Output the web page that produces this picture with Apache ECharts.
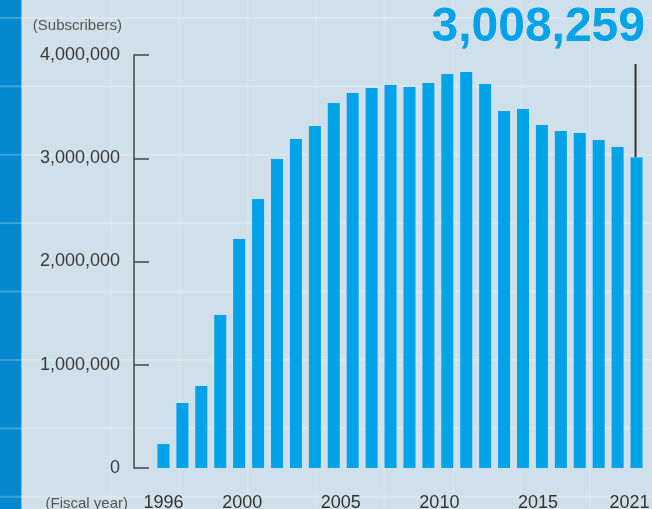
<!DOCTYPE html>
<html>
<head>
<meta charset="utf-8">
<script src="https://cdn.jsdelivr.net/npm/echarts@6/dist/echarts.min.js"></script>
<style>
  html, body { margin: 0; padding: 0; }
  #wrap {
    position: relative;
    width: 652px;
    height: 509px;
    overflow: hidden;
    background-color: #cfe0ea;
    background-image:
      linear-gradient(to right, #0588cf 0, #0588cf 21px, #7cbde3 21px, #7cbde3 22px, transparent 22px);
    background-repeat: no-repeat;
  }
  /* faint graph-paper pattern */
  #hlines, #vlines { position: absolute; top: 0; bottom: 0; }
  #hlines {
    left: 0; right: 0;
    background-image: linear-gradient(to bottom, rgba(255,255,255,0.22) 2px, transparent 2px);
    background-size: 100% 68.4px;
    background-position: 0 17px;
  }
  #vlines {
    left: 110px; right: 0;
    background-image: linear-gradient(to right, rgba(255,255,255,0.14) 2px, transparent 2px);
    background-size: 68.4px 100%;
  }
  #chart { position: absolute; left: 0; top: 0; width: 652px; height: 509px; }
</style>
</head>
<body>
<div id="wrap">
  <div id="vlines"></div>
  <div id="hlines"></div>
  <div id="chart"></div>
</div>
<script>
// Subscribers by fiscal year
const years = ['1996', '1997', '1998', '1999', '2000', '2001', '2002', '2003', '2004',
  '2005', '2006', '2007', '2008', '2009', '2010', '2011', '2012', '2013', '2014',
  '2015', '2016', '2017', '2018', '2019', '2020', '2021'];
const subscribers = [232000, 630000, 794000, 1482000, 2218000, 2605000, 2993000, 3186000,
  3312000, 3535000, 3632000, 3680000, 3709000, 3690000, 3729000, 3816000, 3835000,
  3719000, 3458000, 3477000, 3322000, 3264000, 3245000, 3177000, 3109000, 3008259];
const yTicks = [0, 1000000, 2000000, 3000000, 4000000];
const yearLabels = ['1996', '2000', '2005', '2010', '2015', '2021'];

const FONT = '"Liberation Sans", Arial, Helvetica, sans-serif';
const BAR = '#00a2e8';
const fmt = v => v.toLocaleString('en-US');

// small horizontal nudges for the year labels (px)
const labelNudge = { '1996': 0, '2000': 3, '2005': 7, '2010': 11, '2015': 15, '2021': -7 };
const rich = {};
yearLabels.forEach(y => {
  const s = labelNudge[y] || 0;
  rich['y' + y] = {
    fontSize: 18, color: '#333', fontFamily: FONT,
    padding: s >= 0 ? [0, 0, 0, 2 * s] : [0, -2 * s, 0, 0]
  };
});

const chart = echarts.init(document.getElementById('chart'), null, { renderer: 'canvas' });
const lastIdx = subscribers.length - 1;
const lastVal = subscribers[lastIdx];

chart.setOption({
  animation: false,
  backgroundColor: 'transparent',
  grid: { left: 154, right: 6, top: 55, bottom: 41, containLabel: false, outerBoundsMode: 'none' },
  xAxis: {
    type: 'category',
    data: years,
    axisLine: { show: false },
    axisTick: { show: false },
    axisLabel: {
      interval: (i, v) => yearLabels.indexOf(v) >= 0,
      margin: 26,
      fontSize: 18,
      color: '#333',
      fontFamily: FONT,
      formatter: v => '{y' + v + '|' + v + '}',
      rich: rich
    }
  },
  yAxis: {
    type: 'value',
    min: yTicks[0],
    max: yTicks[yTicks.length - 1],
    interval: yTicks[1] - yTicks[0],
    offset: 20,
    axisLine: { show: true, lineStyle: { color: '#444', width: 1.5 } },
    axisTick: { show: true, inside: true, length: 15, lineStyle: { color: '#444', width: 1.5 } },
    axisLabel: { margin: 14, fontSize: 18, color: '#3a3a3a', fontFamily: FONT, formatter: fmt },
    splitLine: { show: false }
  },
  series: [{
    type: 'bar',
    data: subscribers,
    barWidth: 12,
    itemStyle: { color: BAR },
    silent: true
  }]
});

// callout: latest value with a leader line down to its bar
const barTop = chart.convertToPixel({ seriesIndex: 0 }, [lastIdx, lastVal]);
chart.setOption({
  graphic: [
    {
      type: 'text', x: 122, y: 26,
      style: { text: '(Subscribers)', fontSize: 15, fill: '#555', fontFamily: FONT,
        align: 'right', verticalAlign: 'middle' }
    },
    {
      type: 'text', x: 128, y: 504,
      style: { text: '(Fiscal year)', fontSize: 15, fill: '#555', fontFamily: FONT,
        align: 'right', verticalAlign: 'middle' }
    },
    {
      type: 'text', x: 645, y: 28,
      style: { text: fmt(lastVal), fontSize: 48, fontWeight: 'bold', fill: BAR,
        fontFamily: FONT, align: 'right', verticalAlign: 'middle' }
    },
    {
      type: 'line',
      shape: { x1: barTop[0] - 1, y1: barTop[1], x2: barTop[0] - 1, y2: 64 },
      style: { stroke: '#333', lineWidth: 2 }
    }
  ]
});
</script>
</body>
</html>
